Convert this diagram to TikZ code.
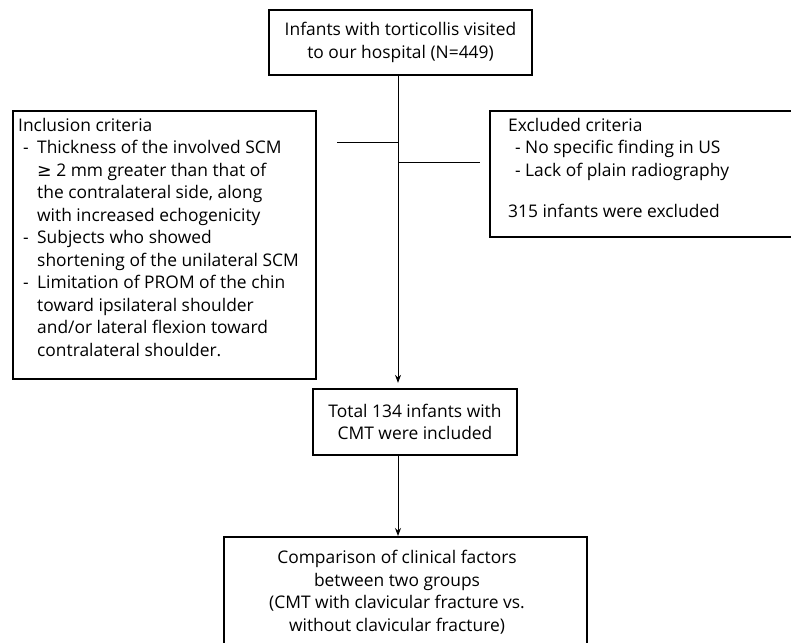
\documentclass[tikz,border=0pt]{standalone}
\usepackage{fontspec}
\setmainfont{Open Sans}
\newfontfamily\symfont{DejaVu Sans}
\usetikzlibrary{arrows.meta}
\begin{document}
\begin{tikzpicture}[x=1pt,y=-1pt,
  box/.style={draw, line width=2.3pt, inner sep=0pt},
  txt/.style={inner sep=0pt, font=\fontsize{17.4}{22.5}\selectfont},
  conn/.style={line width=0.9pt},
  arr/.style={line width=0.9pt, -{Stealth[length=8pt,width=6pt]}}]
\useasboundingbox (0,0) rectangle (791,642);
\clip (0,0) rectangle (791,642);

% top box
\node[box, txt, align=center, minimum width=263pt, minimum height=65pt] (top) at (400.5,42.5)
  {Infants with torticollis visited\\to our hospital (N=449)};

% middle box
\node[box, txt, align=center, minimum width=204pt, minimum height=66pt] (mid) at (415,422)
  {Total 134 infants with\\CMT were included};

% bottom box (cut by the lower edge)
\node[box, anchor=north west, minimum width=363pt, minimum height=160pt] (bot) at (223,536) {};
\node[txt, align=center] (bottxt) at (397,592)
  {Comparison of clinical factors\\between two groups\\(CMT with clavicular fracture vs.\\without clavicular fracture)};

% inclusion box
\node[box, anchor=north west, minimum width=303pt, minimum height=268pt] (incl) at (12,110) {};
\node[txt, align=left, anchor=north west] (incltxt) at (18,118)
  {Inclusion criteria\\
   \hspace*{5pt}\makebox[14pt][l]{-}Thickness of the involved SCM\\
   \hspace*{19pt}{\symfont ≥} 2 mm greater than that of\\
   \hspace*{19pt}the contralateral side, along\\
   \hspace*{19pt}with increased echogenicity\\
   \hspace*{5pt}\makebox[14pt][l]{-}Subjects who showed\\
   \hspace*{19pt}shortening of the unilateral SCM\\
   \hspace*{5pt}\makebox[14pt][l]{-}Limitation of PROM of the chin\\
   \hspace*{19pt}toward ipsilateral shoulder\\
   \hspace*{19pt}and/or lateral flexion toward\\
   \hspace*{19pt}contralateral shoulder.};

% exclusion box (cut by the right edge)
\node[box, anchor=north west, minimum width=330pt, minimum height=126pt] (excl) at (489,110) {};
\node[txt, align=left, anchor=north west] (excltxt) at (508,118)
  {Excluded criteria\\
   \hspace*{7pt}\makebox[10pt][l]{-}No specific finding in US\\
   \hspace*{7pt}\makebox[10pt][l]{-}Lack of plain radiography\\[19pt]
   315 infants were excluded};

% connectors
\coordinate (jL) at (398,142);
\coordinate (lEnd) at (337,142);
\coordinate (jR) at (398,162);
\coordinate (rEnd) at (480,162);
\draw[conn] (jL) -- (lEnd);
\draw[conn] (jR) -- (rEnd);
\draw[arr, shorten >=5pt] (top.south -| jL) -- (mid.north -| jL);
\draw[arr] (mid.south -| jL) -- (bot.north -| jL);
\end{tikzpicture}
\end{document}
